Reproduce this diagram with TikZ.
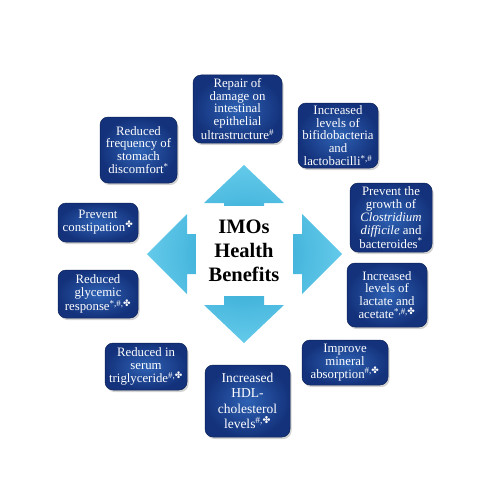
\documentclass[tikz,border=0pt]{standalone}
\usepackage{fontspec}
\setmainfont{Liberation Serif}
\newfontfamily\symfont{DejaVu Sans}
\definecolor{imonavy}{RGB}{20,50,124}
\definecolor{imoblue}{RGB}{46,98,180}
\definecolor{imocyan}{RGB}{38,160,206}
\definecolor{imocyanlt}{RGB}{100,202,234}
\usetikzlibrary{shadows}
\newcommand{\petal}{{\symfont ✤}}

\begin{document}
\begin{tikzpicture}[x=1pt, y=-1pt,
    benefit/.style={rectangle, rounded corners=8pt, draw=imonavy!70!black, line width=0.5pt,
      inner color=imoblue, outer color=imonavy, text=white, align=center, inner sep=1pt,
      font=\fontsize{12.8}{12.8}\selectfont,
      drop shadow={opacity=0.35, shadow xshift=1.5pt, shadow yshift=-2pt}},
    hub/.style={rectangle, fill=white, align=center, inner sep=0pt,
      minimum width=97pt, minimum height=90pt, font=\fontsize{20.5}{24}\selectfont\bfseries}
  ]
    \useasboundingbox (0,0) rectangle (502,500);
    % Quad arrow
    \path[inner color=imocyan, outer color=imocyanlt]
      (244,165) -- (284,203) -- (264,203) -- (264,234) -- (302,234) -- (302,214) -- (342,254)
      -- (302,294) -- (302,274) -- (264,274) -- (264,305) -- (284,305) -- (244,343)
      -- (204,305) -- (224,305) -- (224,274) -- (187,274) -- (187,294) -- (147,254)
      -- (187,214) -- (187,234) -- (224,234) -- (224,203) -- (204,203) -- cycle;
    \node[hub] (hub) at (244,251) {IMOs\\Health\\Benefits};
    % Benefit boxes, clockwise from the top
    \node[benefit, minimum width=89pt, minimum height=68pt] (repair) at (237.5,109) {
      Repair of\\damage on\\intestinal\\epithelial\\ultrastructure\textsuperscript{\#}
    };
    \node[benefit, minimum width=80pt, minimum height=65pt] (bifido) at (338,135.5) {
      Increased\\levels of\\bifidobacteria\\and\\lactobacilli\textsuperscript{*,\#}
    };
    \node[benefit, minimum width=82pt, minimum height=69pt] (clostr) at (391,217.5) {
      Prevent the\\growth of\\\textit{Clostridium}\\\textit{difficile} and\\bacteroides\textsuperscript{*}
    };
    \node[benefit, minimum width=80pt, minimum height=64pt] (lactate) at (387,295) {
      Increased\\levels of\\lactate and\\acetate\textsuperscript{*,\#,\petal}
    };
    \node[benefit, minimum width=86pt, minimum height=45pt] (mineral) at (345,362.5) {
      Improve\\mineral\\absorption\textsuperscript{\#,\petal}
    };
    \node[benefit, minimum width=85pt, minimum height=72pt,
      font=\fontsize{13.5}{15.5}\selectfont] (hdl) at (247.5,401) {
      Increased\\HDL-\\cholesterol\\levels\textsuperscript{\#,\petal}
    };
    \node[benefit, minimum width=82pt, minimum height=47pt] (serum) at (146,366.5) {
      Reduced in\\serum\\triglyceride\textsuperscript{\#,\petal}
    };
    \node[benefit, minimum width=80pt, minimum height=48pt] (glycemic) at (98,294) {
      Reduced\\glycemic\\response\textsuperscript{*,\#,\petal}
    };
    \node[benefit, minimum width=80pt, minimum height=39pt] (constip) at (98,222.5) {
      Prevent\\constipation\textsuperscript{\petal}
    };
    \node[benefit, minimum width=77pt, minimum height=66pt] (stomach) at (138.5,150) {
      Reduced\\frequency of\\stomach\\discomfort\textsuperscript{*}
    };
  \end{tikzpicture}
\end{document}
